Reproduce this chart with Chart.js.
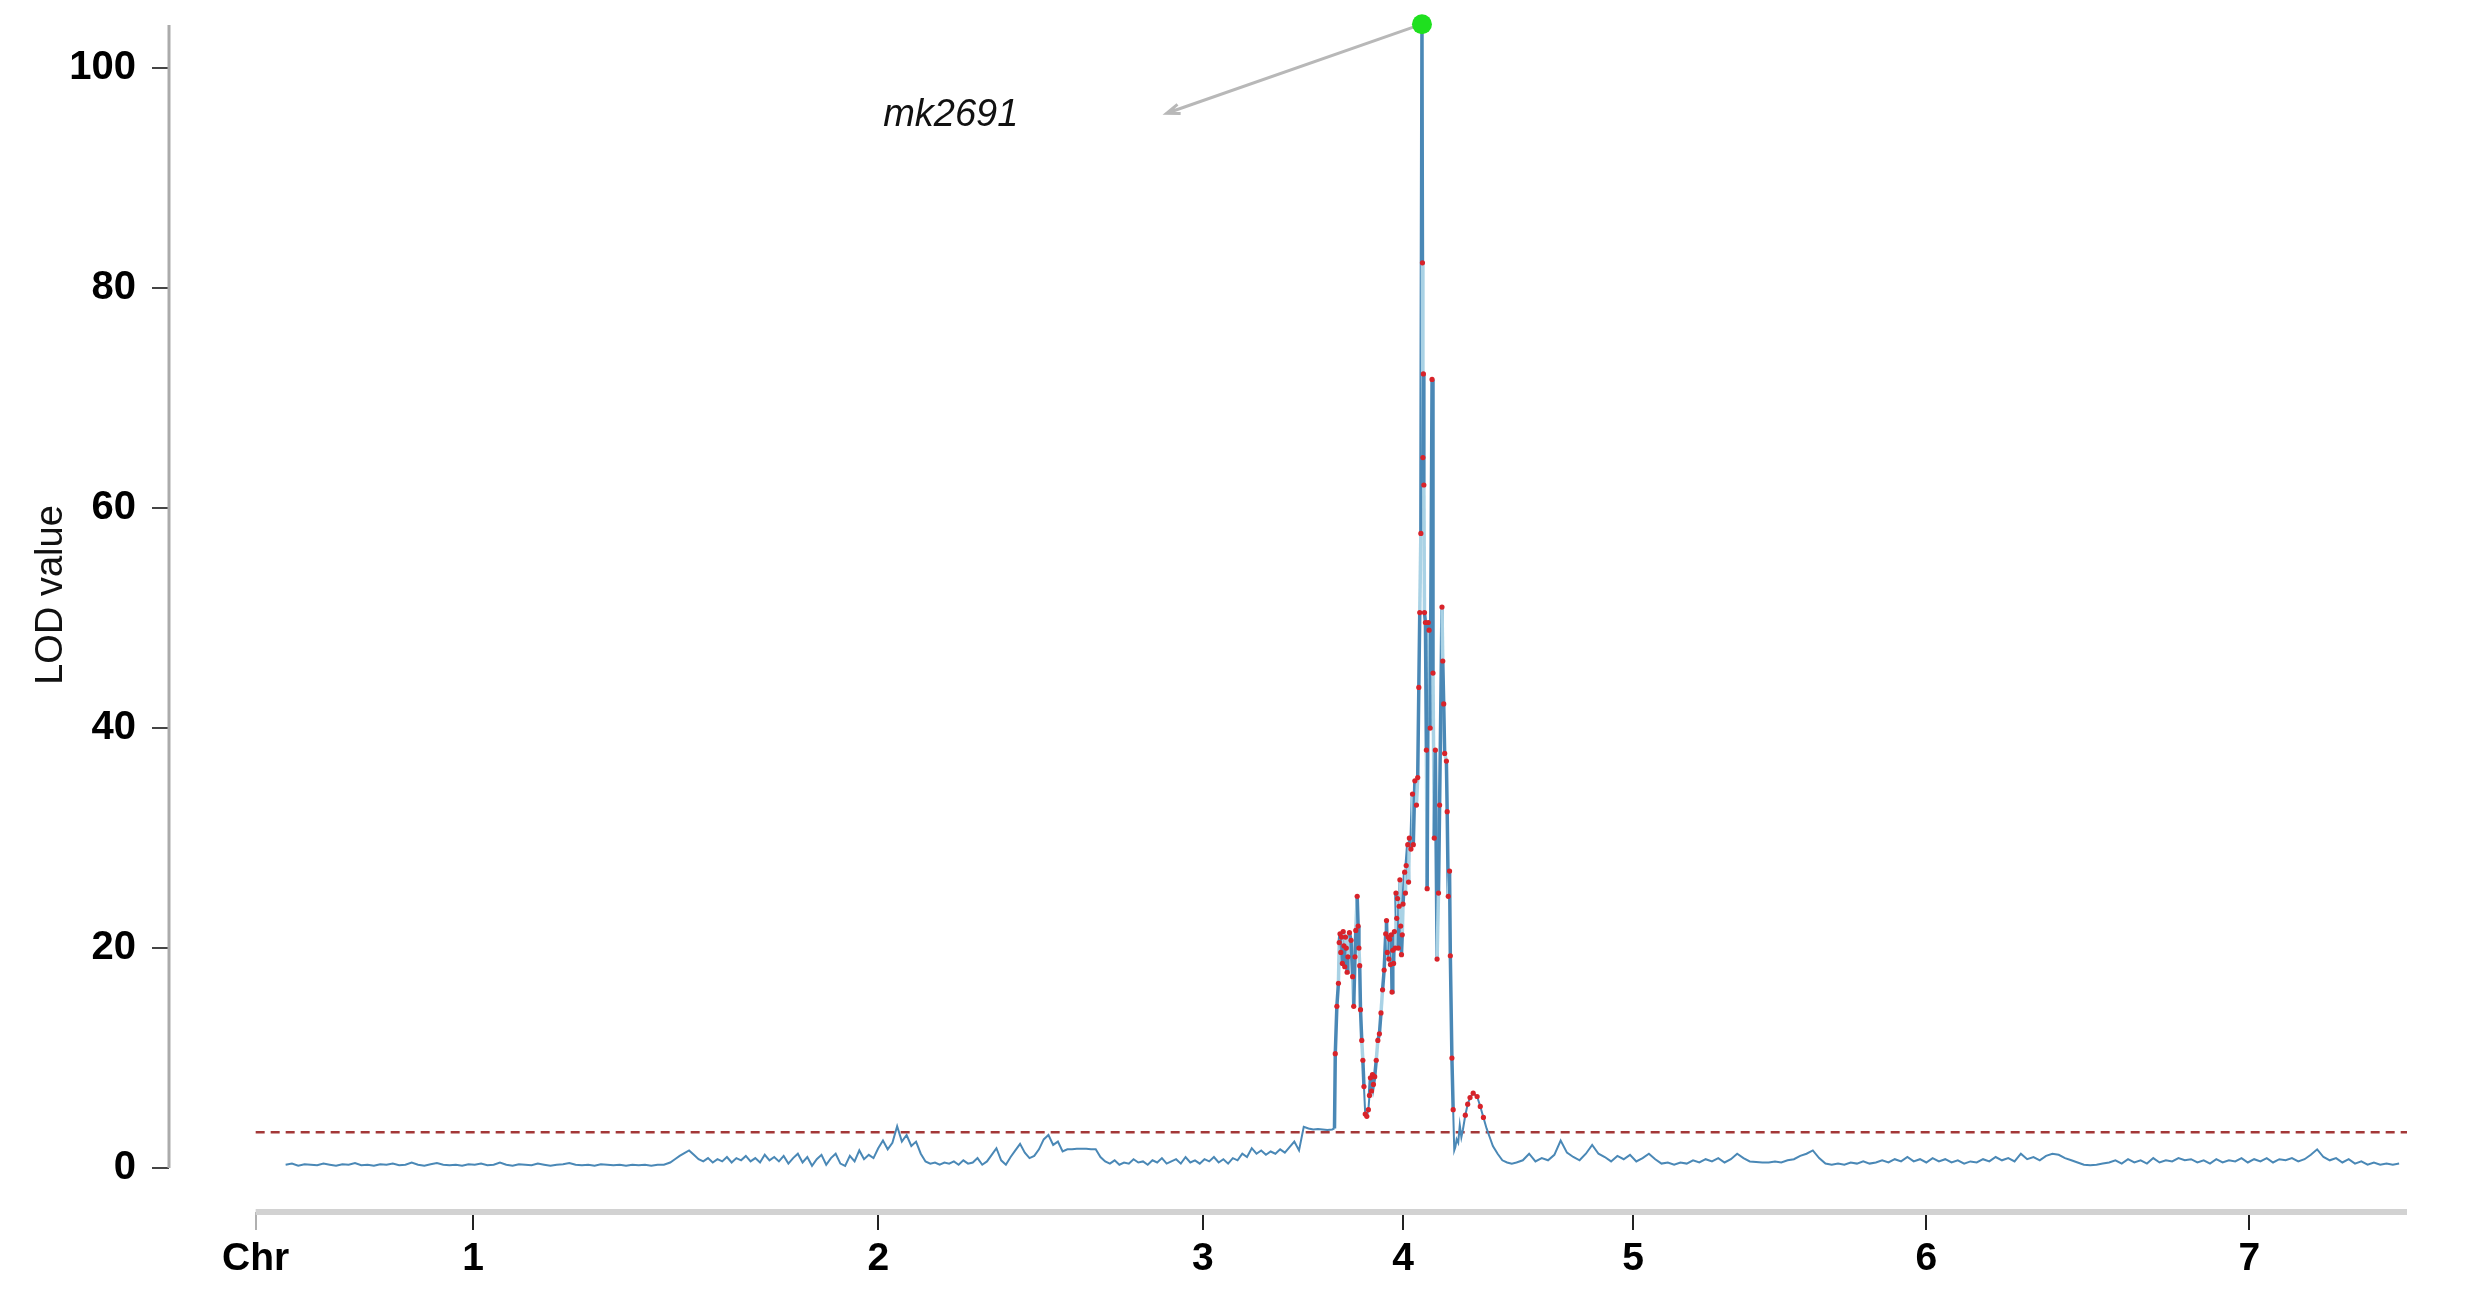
<!DOCTYPE html>
<html>
<head>
<meta charset="utf-8">
<title>LOD scan</title>
<script src="https://cdn.jsdelivr.net/npm/chart.js@4.4.1/dist/chart.umd.min.js"></script>
<style>
html,body{margin:0;padding:0;background:#fff;}
#wrap{width:2471px;height:1308px;}
</style>
</head>
<body>
<div id="wrap"><canvas id="lodChart" width="2471" height="1308"></canvas></div>
<script>
// chromosome label positions on the cumulative axis
const CHR_TICKS = [0, 138, 395, 601, 728, 874, 1060, 1265];
const CHR_LABELS = ['Chr', '1', '2', '3', '4', '5', '6', '7'];
const Y_TICKS = [0, 20, 40, 60, 80, 100];
const THRESHOLD = 3.25;

// evenly spaced marker scans: first position, spacing, LOD values
const CHR1_START = 19, CHR1_STEP = 4;
const CHR1_LOD = [
  0.3,0.4,0.2,0.35,0.3,0.25,0.4,0.3,0.2,0.35, 0.3,0.45,0.25,0.3,0.2,0.35,0.3,0.4,0.25,0.3,
  0.5,0.3,0.2,0.35,0.45,0.3,0.25,0.3,0.2,0.35, 0.3,0.4,0.25,0.3,0.5,0.3,0.2,0.35,0.3,0.25,
  0.4,0.3,0.2,0.3,0.35,0.45,0.3,0.25,0.3,0.2, 0.35,0.3,0.25,0.3,0.2,0.3,0.25,0.3,0.2,0.3,0.3
];
const CHR2_3_START = 263, CHR2_3_STEP = 3;
const CHR2_3_LOD = [
  0.5,0.8,1.1,1.35,1.6,1.2,0.8,0.6,0.9,0.5, 0.8,0.6,1.0,0.5,0.9,0.7,1.1,0.6,0.9,0.5,
  1.2,0.7,1.0,0.6,1.1,0.4,0.9,1.3,0.5,1.0, 0.2,0.8,1.2,0.3,0.9,1.3,0.4,0.2,1.1,0.6,
  1.6,0.8,1.2,0.9,1.8,2.5,1.7,2.3,3.8,2.4, 3.0,2.0,2.4,1.3,0.6,0.4,0.5,0.3,0.5,0.4,
  0.6,0.3,0.7,0.4,0.5,0.9,0.3,0.6,1.2,1.8, 0.7,0.3,1.0,1.6,2.2,1.4,0.9,1.1,1.7,2.6,
  3.0,2.1,2.4,1.5,1.7,1.7,1.75,1.75,1.75,1.7, 1.7,1.0,0.6,0.4,0.7,0.3,0.5,0.4,0.8,0.5,
  0.6,0.3,0.7,0.5,0.9,0.4,0.6,0.8,0.4,1.0, 0.5,0.7,0.4,0.8,0.6,1.0,0.5,0.8,0.4,0.9,
  0.7,1.3,1.0,1.8,1.3,1.6,1.2,1.5,1.3,1.7, 1.4,1.9,2.4,1.6,3.75,3.6,3.5,3.55,3.5,3.45,3.5
];
// chromosome 4 peak: [position, LOD]
const CHR4_PEAK = [
  [684.5,3.6],[685,10.4],[686,14.7],[687,16.8],[687.5,20.5],[688,21.3],[688.5,19.6],[689,21.0],
  [689.5,18.6],[690,21.5],[690.5,20.2],[691,18.3],[691.5,21.0],[692,20.0],[692.5,17.8],[693,19.2],
  [694,21.4],[695,20.7],[696,17.4],[696.7,14.7],[697.5,19.2],[698,21.6],[698.9,24.7],[699.5,22.0],
  [700,20.0],[700.5,18.4],[701,14.4],[701.8,11.6],[702.5,9.8],[703.2,7.4],[704,4.9],[705,4.7],
  [706,5.3],[706.7,6.6],[707.3,8.2],[708,7.0],[708.6,8.5],[709.2,7.6],[710,8.3],[711,9.8],
  [712,11.6],[713,12.2],[714,14.1],[715,16.2],[716,18.0],[717,21.3],[717.5,22.5],[718,19.6],
  [718.5,21.0],[719,19.0],[719.5,20.8],[720,18.5],[720.5,21.2],[721,16.0],[721.5,19.8],[722,18.6],
  [722.5,21.5],[723,20.0],[723.5,25.0],[724,22.7],[724.5,24.5],[725,20.0],[725.5,23.8],[726,26.2],
  [726.5,22.0],[727,19.4],[727.5,21.2],[728,24.0],[729,26.9],[729.5,25.0],[730,27.5],[731,29.4],
  [731.5,26.0],[732,30.0],[733,29.0],[734,34.0],[734.5,29.4],[735.5,35.2],[736.5,33.0],[737.3,35.5],
  [738,43.7],[738.6,50.5],[739.3,57.7],[740,104],[740.3,82.3],[740.6,64.6],[740.9,72.2],[741.2,62.1],
  [741.6,50.5],[742.2,49.6],[742.8,38],[743.3,25.4],[744,49.6],[744.5,48.9],[745.2,40],[746.4,71.7],
  [747,45],[747.8,30],[748.5,38],[749.6,19],[750.5,25],[751.2,33],[752.7,51],[753.2,46.1],
  [753.8,42.2],[754.4,37.7],[755.5,37.0],[756,32.4],[756.7,24.7],[757.5,27],[758,19.3],[759,10],
  [759.8,5.3],[760.5,1.6],[761.2,1.9],[762,2.6],[763,2.3],[764,3.9],[765,2.8],[766,3.5],
  [767.5,4.8],[769,5.8],[770.5,6.4],[772.5,6.8],[775,6.5],[777,5.6],[779,4.6],[781,3.6],
  [783,2.8],[785,2.0],[788,1.3],[791,0.7],[794,0.5],[797,0.4]
];
const CHR5_7_START = 800, CHR5_7_STEP = 4;
const CHR5_7_LOD = [
  0.5,0.7,1.3,0.6,0.9,0.7,1.2,2.5,1.4,1.0, 0.7,1.3,2.1,1.3,1.0,0.6,1.1,0.8,1.2,0.6,
  0.9,1.3,0.8,0.4,0.5,0.3,0.5,0.4,0.7,0.5, 0.8,0.6,0.9,0.5,0.8,1.3,0.9,0.6,0.55,0.5,
  0.5,0.6,0.5,0.7,0.8,1.1,1.3,1.6,0.9,0.4, 0.3,0.4,0.3,0.5,0.4,0.6,0.4,0.5,0.7,0.5,
  0.8,0.6,1.0,0.6,0.8,0.5,0.9,0.6,0.8,0.5, 0.7,0.4,0.6,0.5,0.8,0.6,1.0,0.7,0.9,0.6,
  1.3,0.8,1.0,0.7,1.1,1.3,1.2,0.9,0.7,0.5, 0.3,0.25,0.3,0.4,0.5,0.7,0.4,0.8,0.5,0.7,
  0.4,0.9,0.5,0.7,0.6,0.9,0.7,0.8,0.5,0.7, 0.4,0.8,0.5,0.7,0.6,0.9,0.5,0.8,0.6,0.9,
  0.5,0.8,0.7,0.9,0.6,0.8,1.2,1.7,1.0,0.7, 0.9,0.5,0.8,0.4,0.6,0.3,0.5,0.3,0.4,0.3,0.4
];

const PEAK_MARKER = 'mk2691';
const LABEL_AT = { x: 441, y: 95.7 };
const ARROW_TO = { x: 578, y: 95.9 };

const FONT = '"Liberation Sans", Arial, sans-serif';

function scan(start, step, vals){ return vals.map((v, i)=> ({ x: start + i*step, y: v })); }

const points = [
  ...scan(CHR1_START, CHR1_STEP, CHR1_LOD),
  ...scan(CHR2_3_START, CHR2_3_STEP, CHR2_3_LOD),
  ...CHR4_PEAK.map(([x, y])=> ({ x, y })),
  ...scan(CHR5_7_START, CHR5_7_STEP, CHR5_7_LOD)
];
const peakPoint = points.reduce((a, b)=> b.y > a.y ? b : a);

const decor = {
  id: 'decor',
  beforeDatasetsDraw(chart){
    const { ctx, scales: { x, y } } = chart;
    // arrow from peak marker towards its label
    const px = x.getPixelForValue(peakPoint.x), py = y.getPixelForValue(peakPoint.y);
    const ex = x.getPixelForValue(ARROW_TO.x), ey = y.getPixelForValue(ARROW_TO.y);
    const ang = Math.atan2(ey - py, ex - px);
    ctx.save();
    ctx.strokeStyle = '#b8b8b8'; ctx.lineWidth = 3;
    ctx.beginPath(); ctx.moveTo(px, py); ctx.lineTo(ex, ey);
    ctx.moveTo(ex - 14*Math.cos(ang - 0.35), ey - 14*Math.sin(ang - 0.35));
    ctx.lineTo(ex, ey);
    ctx.lineTo(ex - 14*Math.cos(ang + 0.35), ey - 14*Math.sin(ang + 0.35));
    ctx.stroke();
    ctx.fillStyle = '#111';
    ctx.font = 'italic 38px ' + FONT;
    ctx.textAlign = 'center'; ctx.textBaseline = 'middle';
    ctx.fillText(PEAK_MARKER, x.getPixelForValue(LABEL_AT.x), y.getPixelForValue(LABEL_AT.y));
    ctx.restore();
  },
  afterDraw(chart){
    const { ctx, chartArea: a, scales: { x, y } } = chart;
    ctx.save();
    ctx.strokeStyle = '#ababab'; ctx.lineWidth = 3;
    ctx.beginPath(); ctx.moveTo(a.left, a.top + 3); ctx.lineTo(a.left, y.getPixelForValue(0)); ctx.stroke();
    ctx.strokeStyle = '#d2d2d2'; ctx.lineWidth = 6;
    ctx.beginPath(); ctx.moveTo(x.getPixelForValue(CHR_TICKS[0]), a.bottom); ctx.lineTo(a.right, a.bottom); ctx.stroke();
    // y axis title
    ctx.translate(52, (y.getPixelForValue(0) + a.top)/2);
    ctx.rotate(-Math.PI/2);
    ctx.fillStyle = '#111';
    ctx.font = '38px ' + FONT;
    ctx.textAlign = 'center'; ctx.textBaseline = 'middle';
    ctx.fillText('LOD value', 0, 0);
    ctx.restore();
  }
};

new Chart(document.getElementById('lodChart'), {
  type: 'line',
  data: {
    datasets: [
      {
        label: 'threshold',
        data: [{ x: CHR_TICKS[0], y: THRESHOLD }, { x: 1365, y: THRESHOLD }],
        borderColor: '#a33838', borderWidth: 2.5, borderDash: [9, 6],
        pointRadius: 0, order: 3
      },
      {
        label: 'LOD',
        data: points,
        borderColor: '#4a88b6', borderWidth: 2,
        pointRadius: ctx => (ctx.raw && ctx.raw.y > 4) ? 2.6 : 0,
        pointBackgroundColor: '#d8232a', pointBorderWidth: 0,
        segment: {
          borderColor: ctx => (ctx.p0.parsed.y > 8 && ctx.p1.parsed.y > 8 && ctx.p0DataIndex % 3 === 1) ? '#a9d2e5' : undefined,
          borderWidth: ctx => (ctx.p0.parsed.y > 8 || ctx.p1.parsed.y > 8) ? 3.5 : undefined
        },
        order: 2
      },
      {
        label: 'peak',
        data: [{ x: peakPoint.x, y: peakPoint.y }],
        showLine: false, pointRadius: 10, pointBackgroundColor: '#1fe01f', pointBorderWidth: 0,
        clip: false, order: 1
      }
    ]
  },
  options: {
    responsive: false,
    devicePixelRatio: 1,
    animation: false,
    layout: { padding: { top: 22, right: 64, left: 0, bottom: 0 } },
    plugins: { legend: { display: false }, tooltip: { enabled: false } },
    scales: {
      x: {
        type: 'linear', min: -55, max: 1365,
        afterBuildTicks: s => { s.ticks = CHR_TICKS.map(v => ({ value: v })); },
        afterFit: s => { s.height = 96; s.paddingLeft = 0; s.paddingRight = 0; },
        border: { display: false },
        grid: {
          drawOnChartArea: false, drawTicks: true, tickLength: 18, lineWidth: 2,
          color: ctx => ctx.index === 0 ? '#b0b0b0' : '#222'
        },
        ticks: {
          autoSkip: false, maxRotation: 0, padding: 6, color: '#000',
          font: { family: FONT, size: 39, weight: 'bold' },
          callback: v => { const i = CHR_TICKS.indexOf(v); return i >= 0 ? CHR_LABELS[i] : ''; }
        }
      },
      y: {
        min: -4, max: 104.2,
        afterBuildTicks: s => { s.ticks = Y_TICKS.map(v => ({ value: v })); },
        afterFit: s => { s.width = 169; s.paddingTop = 0; s.paddingBottom = 0; },
        border: { display: false },
        grid: { drawOnChartArea: false, drawTicks: true, tickLength: 17, lineWidth: 2, color: '#444' },
        ticks: {
          padding: 16, color: '#000',
          font: { family: FONT, size: 40, weight: 'bold' }
        }
      }
    }
  },
  plugins: [decor]
});
</script>
</body>
</html>
